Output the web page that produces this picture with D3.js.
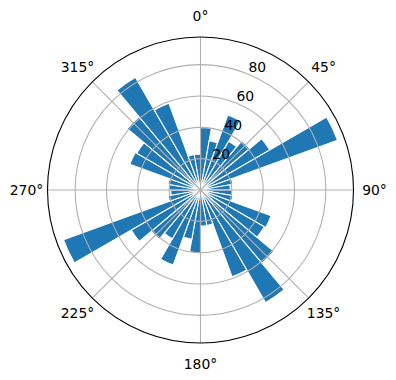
<!DOCTYPE html>
<html>
<head>
<meta charset="utf-8">
<script src="https://cdn.jsdelivr.net/npm/d3@7"></script>
<style>
  body { margin: 0; background: #fff; }
  svg { display: block; }
</style>
</head>
<body>
<div id="chart"></div>
<script>
// bin start angle (degrees, clockwise from north) and bar height
const directions = [0, 10, 20, 30, 40, 50, 60, 70, 80, 90, 100, 110, 120, 130, 140, 150, 160, 170,
  180, 190, 200, 210, 220, 230, 240, 250, 260, 270, 280, 290, 300, 310, 320, 330, 340, 350];
const counts = [40, 32, 51, 36, 41, 51, 93, 21, 19, 20, 21, 48, 47, 61, 83, 59, 23, 23,
  40, 32, 51, 36, 41, 51, 93, 21, 19, 20, 21, 48, 47, 61, 83, 59, 23, 23];
const ringTicks = [20, 40, 60, 80];
const angleTicks = [0, 45, 90, 135, 180, 225, 270, 315];
const angleLabels = ["0°", "45°", "90°", "135°", "180°", "225°", "270°", "315°"];

const WIDTH = 396;
const HEIGHT = 380;
const CX = 200.5;
const CY = 190;
const RADIUS = 153;
const BIN = 10;
const FONT = "13.9px 'DejaVu Sans', sans-serif";

const svg = d3
  .select("#chart")
  .append("svg")
  .attr("width", WIDTH)
  .attr("height", HEIGHT);

const g = svg.append("g").attr("transform", `translate(${CX}, ${CY})`);

// matplotlib pads the data max by 5%
const rScale = d3.scaleLinear().domain([0, d3.max(counts) * 1.05]).range([0, RADIUS]);
const aScale = d3.scaleLinear().domain([0, 360]).range([0, 2 * Math.PI]);

const bars = directions.map((dir, i) => ({ dir: dir, count: counts[i] }));

// BARS
const arc = d3
  .arc()
  .innerRadius(0)
  .startAngle((d) => aScale(d.dir))
  .endAngle((d) => aScale(d.dir + BIN))
  .outerRadius((d) => rScale(d.count));

g.selectAll("path.bar")
  .data(bars)
  .enter()
  .append("path")
  .attr("class", "bar")
  .attr("d", arc)
  .style("fill", "#1f77b4")
  .style("stroke", "#ffffff")
  .style("stroke-width", "1.1px")
  .style("stroke-linejoin", "miter");

// GRID (drawn above the bars, like matplotlib)
g.selectAll("circle.ring")
  .data(ringTicks)
  .enter()
  .append("circle")
  .attr("class", "ring")
  .attr("r", (d) => rScale(d))
  .style("fill", "none")
  .style("stroke", "#b0b0b0")
  .style("stroke-width", "1.1px");

g.selectAll("line.spoke")
  .data(angleTicks)
  .enter()
  .append("line")
  .attr("class", "spoke")
  .attr("x1", 0)
  .attr("y1", 0)
  .attr("x2", (d) => RADIUS * Math.sin(aScale(d)))
  .attr("y2", (d) => -RADIUS * Math.cos(aScale(d)))
  .style("stroke", "#b0b0b0")
  .style("stroke-width", "1.1px");

// outer spine
g.append("circle")
  .attr("r", RADIUS)
  .style("fill", "none")
  .style("stroke", "#000000")
  .style("stroke-width", "1.1px");

// RADIAL LABELS at 22.5 deg
const labelAngle = aScale(22.5);
g.selectAll("text.rlabel")
  .data(ringTicks)
  .enter()
  .append("text")
  .attr("class", "rlabel")
  .attr("x", (d) => rScale(d) * Math.sin(labelAngle))
  .attr("y", (d) => -rScale(d) * Math.cos(labelAngle) - 2.5)
  .style("font", FONT)
  .style("fill", "#000")
  .style("text-anchor", "start")
  .text((d) => d);

// ANGLE LABELS
const labelRadius = 174;
g.selectAll("text.alabel")
  .data(angleTicks)
  .enter()
  .append("text")
  .attr("class", "alabel")
  .attr("x", (d) => labelRadius * Math.sin(aScale(d)))
  .attr("y", (d) => -labelRadius * Math.cos(aScale(d)))
  .attr("dy", "0.36em")
  .style("font", FONT)
  .style("fill", "#000")
  .style("text-anchor", "middle")
  .text((d, i) => angleLabels[i]);
</script>
</body>
</html>
